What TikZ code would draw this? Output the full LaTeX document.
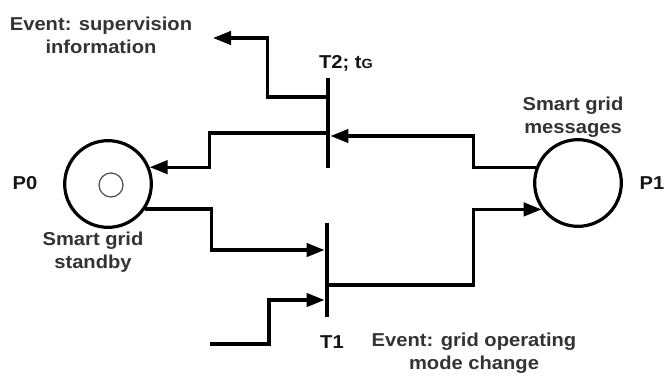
\documentclass[tikz,border=0pt]{standalone}
\usepackage{fontspec}
\setmainfont{Liberation Sans}
\newfontfamily\labfont{Liberation Sans Bold}[FakeStretch=1.08]
\usetikzlibrary{arrows.meta,calc}
\begin{document}
\begin{tikzpicture}[x=0.75pt,y=-0.75pt,
  wire/.style={line width=2.5pt},
  arr/.style={wire,-{Triangle[length=13.5pt,width=10pt]}},
  place/.style={circle,draw,line width=2.4pt,minimum size=65pt,inner sep=0pt},
  token/.style={circle,draw=black!70,line width=0.9pt,minimum size=18pt,inner sep=0pt},
  trans/.style={rectangle,fill=black,minimum width=3.3pt,inner sep=0pt},
  lab/.style={font={\labfont\fontsize{14}{17}\selectfont},text=black!80,align=center,inner sep=0pt},
  pname/.style={font={\labfont\fontsize{14}{17}\selectfont},text=black!92,inner sep=0pt}]
\useasboundingbox (0,0) rectangle (667,376);
% places and transitions
\node[place] (P0) at (108,184) {};
\node[token] (tok) at (111,185) {};
\node[place] (P1) at (578,183) {};
\node[trans,minimum height=67.5pt] (T2) at (328,123) {};
\node[trans,minimum height=70.5pt] (T1) at (327,270) {};
% free ends
\coordinate (sup) at (213,38);
\coordinate (gev) at (210,344);
% connectors
\draw[arr] ($(T2.west)+(0,10)$) -- ++(-116,0) |- (P0.22);
\draw[arr] ($(T2.west)+(0,-26)$) -- ++(-58,0) |- (sup);
\draw[arr] (P1.160) -- ++(-62,0) |- ($(T2.east)+(0,13)$);
\draw[arr] (P0.-34) -- ++(66,0) |- ($(T1.west)+(0,-20)$);
\draw[arr] (gev) -- ++(59,0) |- ($(T1.west)+(0,30)$);
\draw[arr] ($(T1.east)+(0,15)$) -- ++(144,0) |- (P1.216);
% labels
\node[pname] (p0l) at (25,183) {P0};
\node[pname] (p1l) at (652,183) {P1};
\node[pname] (t2l) at (346,63) {T2; t{\fontsize{10}{10}\selectfont G}};
\node[pname] (t1l) at (332,342) {T1};
\node[lab] (sgs) at (93,252) {Smart grid\\standby};
\node[lab] (sgm) at (573,117) {Smart grid\\messages};
\node[lab] (evs) at (101,35) {Event: supervision\\information};
\node[lab] (evg) at (474,353) {Event: grid operating\\mode change};
\end{tikzpicture}
\end{document}
